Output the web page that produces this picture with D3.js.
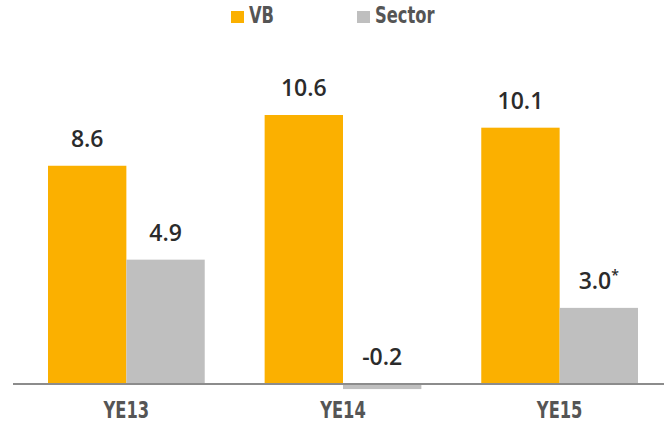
<!DOCTYPE html>
<html>
<head>
<meta charset="utf-8">
<script src="https://cdn.jsdelivr.net/npm/d3@7"></script>
<style>
body { margin: 0; background: #fff; }
svg { display: block; }
</style>
</head>
<body>
<div id="chart"></div>
<script>
// chart data
var years = ['YE13', 'YE14', 'YE15'];
var series = ['VB', 'Sector'];
var vbValues = [8.6, 10.6, 10.1];
var sectorValues = [4.9, -0.2, 3.0];
var sectorNotes = ['', '', '*'];

var colors = { VB: '#fbb000', Sector: '#bfbfbf' };

var width = 664, height = 423;
var narrowFont = '"DejaVu Sans Condensed", "DejaVu Sans", sans-serif';
var squeeze = 0.77; // the source uses a condensed face

var svg = d3.select('#chart').append('svg')
    .attr('width', width)
    .attr('height', height);

var x0 = d3.scaleBand()
    .domain(years)
    .range([48, 638])
    .paddingInner(0.2765)
    .paddingOuter(0);

var x1 = d3.scaleBand()
    .domain(series)
    .range([0, x0.bandwidth()])
    .padding(0);

var y = d3.scaleLinear()
    .domain([0, 10.6])
    .range([384, 115]);

var rows = years.map(function(yr, i) {
    return [
        { year: yr, key: 'VB', value: vbValues[i], note: '' },
        { year: yr, key: 'Sector', value: sectorValues[i], note: sectorNotes[i] }
    ];
});

var groups = svg.selectAll('g.grp')
    .data(rows)
    .enter().append('g')
    .attr('class', 'grp')
    .attr('transform', function(d, i) { return 'translate(' + x0(years[i]) + ',0)'; });

groups.selectAll('rect')
    .data(function(d) { return d; })
    .enter().append('rect')
    .attr('x', function(d) { return x1(d.key); })
    .attr('width', x1.bandwidth())
    .attr('y', function(d) { return y(Math.max(0, d.value)); })
    .attr('height', function(d) { return Math.abs(y(d.value) - y(0)); })
    .attr('fill', function(d) { return colors[d.key]; });

// value labels
var lbl = groups.selectAll('text.val')
    .data(function(d) { return d; })
    .enter().append('text')
    .attr('class', 'val')
    .attr('x', function(d) { return x1(d.key) + x1.bandwidth() / 2; })
    .attr('y', function(d) { return y(Math.max(0, d.value)) - 19; })
    .attr('text-anchor', 'middle')
    .style('font-family', '"Open Sans", "Noto Sans", sans-serif')
    .style('font-weight', 600)
    .style('font-size', '23px')
    .style('fill', '#2b2b2b');

lbl.append('tspan')
    .text(function(d) { return d.value.toFixed(1); });
lbl.append('tspan')
    .attr('dy', -9)
    .style('font-size', '14px')
    .text(function(d) { return d.note; });

// baseline
svg.append('line')
    .attr('x1', 13).attr('x2', 664)
    .attr('y1', y(0)).attr('y2', y(0))
    .attr('stroke', '#8c8c8c')
    .attr('stroke-width', 2);

// category labels
svg.selectAll('text.cat')
    .data(years)
    .enter().append('text')
    .attr('class', 'cat')
    .attr('transform', function(d) {
        return 'translate(' + (x0(d) + x0.bandwidth() / 2) + ',418) scale(' + squeeze + ',1)';
    })
    .attr('text-anchor', 'middle')
    .style('font-family', narrowFont)
    .style('font-weight', 'bold')
    .style('font-size', '23.5px')
    .style('fill', '#555')
    .text(function(d) { return d; });

// legend
var legend = [
    { key: 'VB', x: 231 },
    { key: 'Sector', x: 357 }
];
var lg = svg.selectAll('g.leg')
    .data(legend)
    .enter().append('g')
    .attr('class', 'leg')
    .attr('transform', function(d) { return 'translate(' + d.x + ',11)'; });
lg.append('rect')
    .attr('width', 13).attr('height', 12)
    .attr('fill', function(d) { return colors[d.key]; });
lg.append('text')
    .attr('transform', 'translate(18,12) scale(' + squeeze + ',1)')
    .style('font-family', narrowFont)
    .style('font-weight', 'bold')
    .style('font-size', '23.5px')
    .style('fill', '#555')
    .text(function(d) { return d.key; });
</script>
</body>
</html>
